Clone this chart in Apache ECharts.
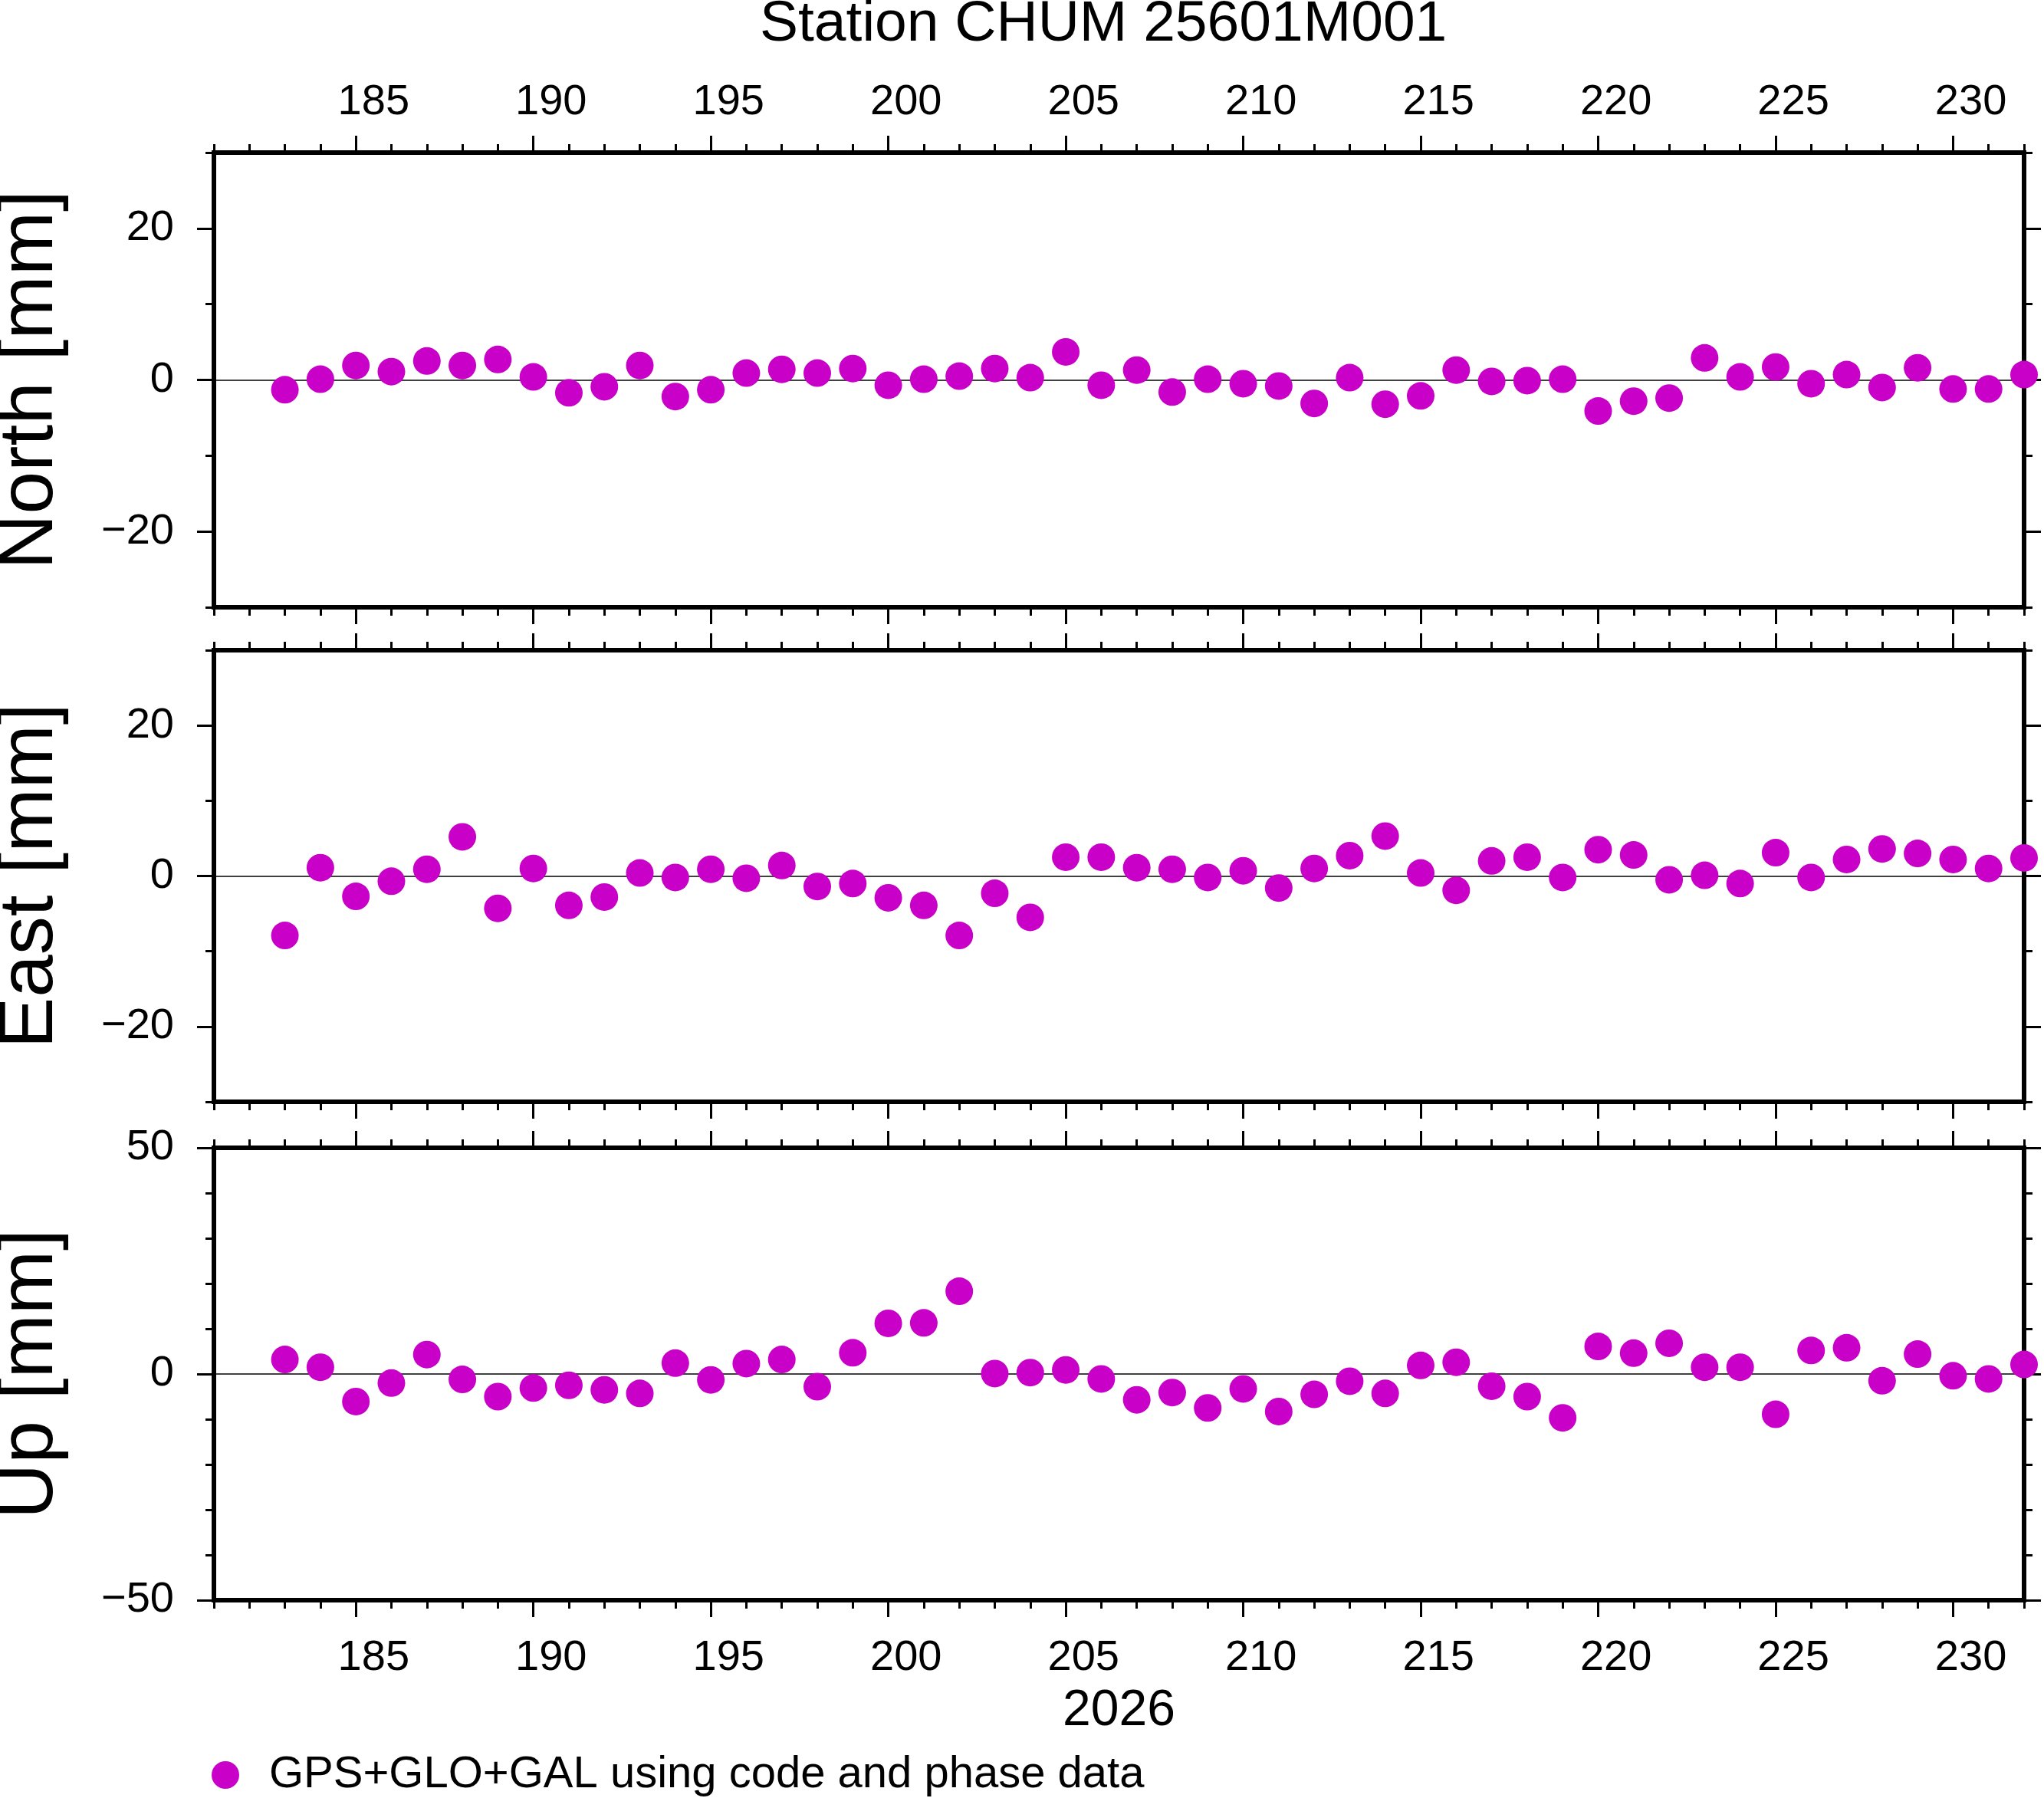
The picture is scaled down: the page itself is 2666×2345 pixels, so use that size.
<!DOCTYPE html>
<html>
<head>
<meta charset="utf-8">
<title>Station CHUM 25601M001</title>
<script src="https://cdn.jsdelivr.net/npm/echarts@6.0.0/dist/echarts.min.js"></script>
<style>
  html, body { margin: 0; padding: 0; background: #fff; }
  #chart { width: 2666px; height: 2345px; }
</style>
</head>
<body>
<div id="chart"></div>
<script>
// day of year 2026
const days = [183, 184, 185, 186, 187, 188, 189, 190, 191, 192, 193, 194, 195, 196, 197, 198, 199,
  200, 201, 202, 203, 204, 205, 206, 207, 208, 209, 210, 211, 212, 213, 214, 215, 216, 217, 218,
  219, 220, 221, 222, 223, 224, 225, 226, 227, 228, 229, 230, 231, 232]

// residuals [mm]
const north = [-1.3, 0.1, 1.9, 1.1, 2.5, 1.9, 2.7, 0.4, -1.7, -0.9, 1.9, -2.2, -1.3, 0.9, 1.4, 0.9, 1.5,
  -0.7, 0.1, 0.5, 1.5, 0.3, 3.7, -0.7, 1.3, -1.6, 0.1, -0.5, -0.8, -3.1, 0.3, -3.2, -2.1, 1.3, -0.2, -0.1,
  0.1, -4.1, -2.8, -2.4, 2.9, 0.4, 1.7, -0.5, 0.7, -1.0, 1.6, -1.2, -1.2, 0.7]
const east = [-7.9, 1.1, -2.7, -0.7, 0.9, 5.2, -4.3, 1.0, -3.9, -2.8, 0.4, -0.2, 0.9, -0.3, 1.4, -1.4, -1.0,
  -2.9, -3.9, -7.9, -2.3, -5.5, 2.5, 2.5, 1.1, 0.9, -0.2, 0.7, -1.6, 1.0, 2.7, 5.3, 0.4, -1.9, 2.0, 2.5,
  -0.2, 3.5, 2.8, -0.5, 0.1, -1.0, 3.1, -0.2, 2.2, 3.6, 3.0, 2.2, 1.0, 2.4]
const up = [3.2, 1.5, -6.1, -2.0, 4.3, -1.2, -5.0, -3.1, -2.5, -3.5, -4.3, 2.4, -1.3, 2.3, 3.2, -2.8, 4.7,
  11.2, 11.3, 18.3, 0.1, 0.3, 0.9, -1.1, -5.7, -4.1, -7.5, -3.3, -8.3, -4.5, -1.6, -4.3, 1.9, 2.6, -2.7, -5.0,
  -9.7, 6.1, 4.6, 6.8, 1.5, 1.5, -8.9, 5.2, 5.8, -1.5, 4.4, -0.4, -1.1, 2.1]

// axes
const dayRange = [181, 232]
const dayTicks = [185, 190, 195, 200, 205, 210, 215, 220, 225, 230]
const neTicks = [-20, 0, 20]
const upTicks = [-50, 0, 50]

const titleText = 'Station CHUM 25601M001'
const yearText = '2026'
const legendText = 'GPS+GLO+GAL using code and phase data'

const FONT = '"Liberation Sans", Helvetica, Arial, sans-serif'
const DOT = '#c800c8'

let panels = [
  { name: 'North [mm]', values: north, min: -30, max: 30, ticks: neTicks, top: 199, height: 593 },
  { name: 'East [mm]', values: east, min: -30, max: 30, ticks: neTicks, top: 848, height: 589 },
  { name: 'Up [mm]', values: up, min: -50, max: 50, ticks: upTicks, top: 1497, height: 590 },
]

let tickStyle = { color: '#000', width: 3 }
let minus = (v) => (v < 0 ? '\u2212' + -v : String(v))

function makeXAxes(gi) {
  let base = {
    type: 'value',
    gridIndex: gi,
    min: dayRange[0],
    max: dayRange[1],
    axisLine: { show: false, onZero: false },
    splitLine: { show: false },
  }
  let label = (margin) => ({
    customValues: dayTicks.map((d) => d + 0.5), // labels sit in the middle of the day
    formatter: (v) => String(Math.floor(v)),
    fontSize: 56,
    fontFamily: FONT,
    color: '#000',
    margin,
  })
  let bottom = {
    ...base,
    position: 'bottom',
    axisTick: { customValues: dayTicks, length: 22, lineStyle: tickStyle },
    axisLabel: gi === 2 ? label(48) : { show: false },
  }
  if (gi === 2) {
    bottom.name = yearText
    bottom.nameLocation = 'middle'
    bottom.nameGap = 112
    bottom.nameTextStyle = { fontSize: 66, fontFamily: FONT, color: '#000' }
  }
  return [
    bottom,
    { ...base, position: 'bottom', interval: 1, axisTick: { length: 11, lineStyle: tickStyle }, axisLabel: { show: false } },
    {
      ...base,
      position: 'top',
      axisTick: { customValues: dayTicks, length: 22, lineStyle: tickStyle },
      axisLabel: gi === 0 ? label(37) : { show: false },
    },
    { ...base, position: 'top', interval: 1, axisTick: { length: 11, lineStyle: tickStyle }, axisLabel: { show: false } },
  ]
}

function makeYAxes(gi, p) {
  let base = {
    type: 'value',
    gridIndex: gi,
    min: p.min,
    max: p.max,
    axisLine: { show: false, onZero: false },
    splitLine: { show: false },
  }
  return [
    {
      ...base,
      position: 'left',
      name: p.name,
      nameLocation: 'middle',
      nameRotate: 90,
      nameGap: 189,
      nameTextStyle: { fontSize: 100, fontFamily: FONT, color: '#000' },
      axisTick: { customValues: p.ticks, length: 22, lineStyle: tickStyle },
      axisLabel: { customValues: p.ticks, formatter: minus, fontSize: 56, fontFamily: FONT, color: '#000', margin: 52 },
    },
    { ...base, position: 'left', interval: 10, axisTick: { length: 11, lineStyle: tickStyle }, axisLabel: { show: false } },
    {
      ...base,
      position: 'right',
      axisTick: { customValues: p.ticks, length: 22, lineStyle: tickStyle },
      axisLabel: { show: false },
    },
    { ...base, position: 'right', interval: 10, axisTick: { length: 11, lineStyle: tickStyle }, axisLabel: { show: false } },
    // zero line
    {
      ...base,
      position: 'left',
      interval: p.max,
      axisTick: { show: false },
      axisLabel: { show: false },
      splitLine: { show: true, lineStyle: { color: '#000', width: 1.5 } },
    },
  ]
}

let chart = echarts.init(document.getElementById('chart'), null, { renderer: 'canvas' })

chart.setOption({
  animation: false,
  backgroundColor: '#fff',
  textStyle: { fontFamily: FONT },
  title: {
    text: titleText,
    left: 991,
    top: -5,
    padding: 0,
    textStyle: { fontSize: 75, fontWeight: 'normal', fontFamily: FONT, color: '#000' },
  },
  legend: {
    data: [legendText],
    left: 276,
    top: 2286,
    padding: 0,
    icon: 'circle',
    itemWidth: 36,
    itemHeight: 36,
    selectedMode: false,
    itemStyle: { opacity: 1 },
    textStyle: { fontSize: 58, fontFamily: FONT, color: '#000', padding: [0, 0, 0, 34] },
  },
  grid: panels.map((p) => ({
    left: 279,
    width: 2361,
    top: p.top,
    height: p.height,
    show: true,
    borderColor: '#000',
    borderWidth: 6,
    backgroundColor: 'transparent',
    outerBoundsMode: 'none',
  })),
  xAxis: panels.flatMap((p, gi) => makeXAxes(gi)),
  yAxis: panels.flatMap((p, gi) => makeYAxes(gi, p)),
  series: panels.map((p, gi) => ({
    type: 'scatter',
    name: legendText,
    xAxisIndex: gi * 4,
    yAxisIndex: gi * 5,
    data: days.map((d, i) => [d, p.values[i]]),
    symbol: 'circle',
    symbolSize: 36,
    itemStyle: { color: DOT, opacity: 1 },
    clip: false,
    z: 5,
    emphasis: { disabled: true },
  })),
})
</script>
</body>
</html>
